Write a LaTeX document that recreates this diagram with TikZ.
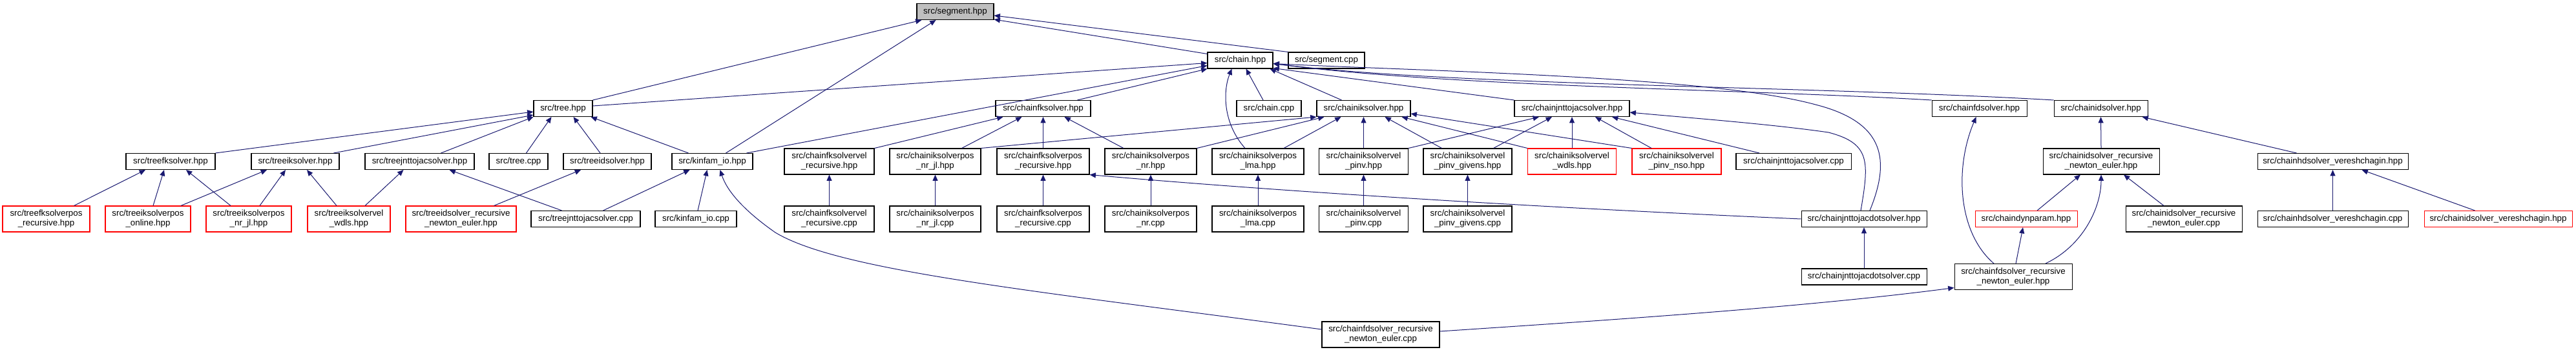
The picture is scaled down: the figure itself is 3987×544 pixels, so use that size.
\documentclass[tikz,border=0pt]{standalone}
\usepackage{fontspec}
\setmainfont{Liberation Sans}
\usetikzlibrary{arrows.meta,calc}
\definecolor{edgeblue}{HTML}{191970}
\definecolor{rootgray}{HTML}{BFBFBF}
\begin{document}
\begin{tikzpicture}[x=0.75pt,y=-0.75pt,
  bx/.style={draw=black, line width=0.8pt, fill=white, inner sep=0pt, minimum height=18.75pt, align=center, font=\fontsize{10}{11.25}\selectfont},
  two/.style={minimum height=30pt},
  redb/.style={draw=red},
  rootbox/.style={fill=rootgray},
  edge/.style={draw=edgeblue, line width=0.75pt, -{Triangle[length=7pt,width=6pt]}}]
\useasboundingbox (0,0) rectangle (3987,544);
% row 0
\node[bx,rootbox,minimum width=89.25pt] (seghpp) at (1478.5,18) {src/segment.hpp};
% row 1
\node[bx,minimum width=75.75pt] (chainhpp) at (1919.5,93.5) {src/chain.hpp};
\node[bx,minimum width=88.5pt] (segcpp) at (2053,93.5) {src/segment.cpp};
% row 2
\node[bx,minimum width=68.25pt] (treehpp) at (871.5,168) {src/tree.hpp};
\node[bx,minimum width=110.25pt] (chainfk) at (1614.5,168) {src/chainfksolver.hpp};
\node[bx,minimum width=75pt] (chaincpp) at (1964,168) {src/chain.cpp};
\node[bx,minimum width=108.75pt] (chainik) at (2110.5,168) {src/chainiksolver.hpp};
\node[bx,minimum width=133.5pt] (chainjac) at (2433,168) {src/chainjnttojacsolver.hpp};
\node[bx,minimum width=110.25pt] (chainfd) at (3063.5,168) {src/chainfdsolver.hpp};
\node[bx,minimum width=108.75pt] (chainid) at (3251.5,168) {src/chainidsolver.hpp};
% row 3
\node[bx,minimum width=103.5pt] (treefk) at (264,250) {src/treefksolver.hpp};
\node[bx,minimum width=102pt] (treeik) at (457,250) {src/treeiksolver.hpp};
\node[bx,minimum width=126.75pt] (treejac) at (649.5,250) {src/treejnttojacsolver.hpp};
\node[bx,minimum width=68.25pt] (treecpp) at (802.5,250) {src/tree.cpp};
\node[bx,minimum width=102pt] (treeid) at (940,250) {src/treeidsolver.hpp};
\node[bx,minimum width=93.75pt] (kinfamhpp) at (1102.5,250) {src/kinfam\_io.hpp};
\node[bx,two,minimum width=104.25pt] (fkvelrec) at (1283.5,250) {src/chainfksolvervel\\\_recursive.hpp};
\node[bx,two,minimum width=105.75pt] (iknrjl) at (1447.5,250) {src/chainiksolverpos\\\_nr\_jl.hpp};
\node[bx,two,minimum width=107.25pt] (fkposrec) at (1614.5,250) {src/chainfksolverpos\\\_recursive.hpp};
\node[bx,two,minimum width=106.5pt] (iknr) at (1781,250) {src/chainiksolverpos\\\_nr.hpp};
\node[bx,two,minimum width=106.5pt] (iklma) at (1947,250) {src/chainiksolverpos\\\_lma.hpp};
\node[bx,two,minimum width=103.5pt] (pinv) at (2110.5,250) {src/chainiksolvervel\\\_pinv.hpp};
\node[bx,two,minimum width=102.75pt] (pinvgiv) at (2271.5,250) {src/chainiksolvervel\\\_pinv\_givens.hpp};
\node[bx,two,redb,minimum width=102.75pt] (velwdls) at (2433,250) {src/chainiksolvervel\\\_wdls.hpp};
\node[bx,two,redb,minimum width=103.5pt] (pinvnso) at (2595,250) {src/chainiksolvervel\\\_pinv\_nso.hpp};
\node[bx,minimum width=133.5pt] (jaccpp) at (2776,250) {src/chainjnttojacsolver.cpp};
\node[bx,two,minimum width=135pt] (idrne) at (3252,250) {src/chainidsolver\_recursive\\\_newton\_euler.hpp};
\node[bx,minimum width=174.75pt] (hdver) at (3610.5,250) {src/chainhdsolver\_vereshchagin.hpp};
% row 4
\node[bx,two,redb,minimum width=101.25pt] (treefkposrec) at (71.5,339) {src/treefksolverpos\\\_recursive.hpp};
\node[bx,two,redb,minimum width=99pt] (treeikonline) at (229,339) {src/treeiksolverpos\\\_online.hpp};
\node[bx,two,redb,minimum width=99pt] (treeiknrjl) at (385,339) {src/treeiksolverpos\\\_nr\_jl.hpp};
\node[bx,two,redb,minimum width=96pt] (treeikvelwdls) at (540,339) {src/treeiksolvervel\\\_wdls.hpp};
\node[bx,two,redb,minimum width=128.25pt] (treeidrne) at (713.5,339) {src/treeidsolver\_recursive\\\_newton\_euler.hpp};
\node[bx,minimum width=126.75pt] (treejaccpp) at (906.5,339) {src/treejnttojacsolver.cpp};
\node[bx,minimum width=94.5pt] (kinfamcpp) at (1077,339) {src/kinfam\_io.cpp};
\node[bx,two,minimum width=104.25pt] (fkvelreccpp) at (1283.5,339) {src/chainfksolvervel\\\_recursive.cpp};
\node[bx,two,minimum width=105.75pt] (iknrjlcpp) at (1447.5,339) {src/chainiksolverpos\\\_nr\_jl.cpp};
\node[bx,two,minimum width=107.25pt] (fkposreccpp) at (1614.5,339) {src/chainfksolverpos\\\_recursive.cpp};
\node[bx,two,minimum width=106.5pt] (iknrcpp) at (1781,339) {src/chainiksolverpos\\\_nr.cpp};
\node[bx,two,minimum width=106.5pt] (iklmacpp) at (1947,339) {src/chainiksolverpos\\\_lma.cpp};
\node[bx,two,minimum width=103.5pt] (pinvcpp) at (2110.5,339) {src/chainiksolvervel\\\_pinv.cpp};
\node[bx,two,minimum width=102.75pt] (pinvgivcpp) at (2271.5,339) {src/chainiksolvervel\\\_pinv\_givens.cpp};
\node[bx,minimum width=145.5pt] (jacdot) at (2885,339) {src/chainjnttojacdotsolver.hpp};
\node[bx,redb,minimum width=118.5pt] (dynparam) at (3136,339) {src/chaindynparam.hpp};
\node[bx,two,minimum width=135pt] (idrnecpp) at (3380,339) {src/chainidsolver\_recursive\\\_newton\_euler.cpp};
\node[bx,minimum width=174.75pt] (hdvercpp) at (3610.5,339) {src/chainhdsolver\_vereshchagin.cpp};
\node[bx,redb,minimum width=171.75pt] (idver) at (3866.5,339) {src/chainidsolver\_vereshchagin.hpp};
% row 5
\node[bx,minimum width=145.5pt] (jacdotcpp) at (2885,428.5) {src/chainjnttojacdotsolver.cpp};
\node[bx,two,minimum width=136.5pt] (fdrne) at (3116,428.5) {src/chainfdsolver\_recursive\\\_newton\_euler.hpp};
% row 6
\node[bx,two,minimum width=136.5pt] (fdrnecpp) at (2137,518) {src/chainfdsolver\_recursive\\\_newton\_euler.cpp};

% ---- edges (includer -> included) ----
% segment.hpp
\draw[edge] (treehpp.north east) -- ($(seghpp.south west)+(8,0)$);
\draw[edge] ($(kinfamhpp.north)+(21,0)$) -- ($(seghpp.south)+(-30,0)$);
\draw[edge] ($(chainhpp.north west)+(0,3)$) -- ($(seghpp.south east)+(0,-1)$);
\draw[edge] (segcpp.north west) -- ($(seghpp.east)+(0,6)$);
% chain.hpp
\draw[edge] ($(treehpp.east)+(0,-4)$) -- ($(chainhpp.west)+(0,4)$);
\draw[edge] ($(kinfamhpp.north east)+(-10,0)$) -- ($(chainhpp.west)+(0,8)$);
\draw[edge] ($(chainfk.north)+(53,0)$) -- (chainhpp.south west);
\draw[edge] ($(chaincpp.north)+(-9,0)$) -- ($(chainhpp.south)+(9,0)$);
\draw[edge] ($(chainik.north)+(-34,0)$) -- ($(chainhpp.south east)+(-5,0)$);
\draw[edge] ($(iklma.north)+(-20,0)$) .. controls (1892,190) and (1893,140) .. ($(chainhpp.south)+(-13,0)$);
\draw[edge] (chainjac.north west) -- ($(chainhpp.south east)+(0,-1)$);
\draw[edge] (chainfd.north west) .. controls (2700,138) and (2250,135) .. ($(chainhpp.east)+(0,5)$);
\draw[edge] (chainid.north west) .. controls (2800,133) and (2250,133) .. ($(chainhpp.east)+(0,5)$);
\draw[edge] ($(jacdot.north)+(9,0)$) .. controls (2925,250) and (2920,190) .. (2810,162) .. controls (2650,118) and (2200,110) .. ($(chainhpp.east)+(0,5)$);
% tree.hpp
\draw[edge] (treefk.north east) -- ($(treehpp.west)+(0,5)$);
\draw[edge] ($(treeik.north east)+(-9,0)$) -- ($(treehpp.west)+(0,10)$);
\draw[edge] ($(treejac.north)+(33,0)$) -- (treehpp.south west);
\draw[edge] ($(treecpp.north)+(12,0)$) -- ($(treehpp.south)+(-18,0)$);
\draw[edge] ($(treeid.north)+(-11,0)$) -- ($(treehpp.south)+(16,0)$);
\draw[edge] ($(kinfamhpp.north)+(-37,0)$) -- ($(treehpp.south east)+(-3,0)$);
% chainfksolver.hpp
\draw[edge] (fkvelrec.north east) -- ($(chainfk.south)+(-62,0)$);
\draw[edge] ($(iknrjl.north)+(41,0)$) -- ($(chainfk.south)+(-33,0)$);
\draw[edge] (fkposrec.north) -- (chainfk.south);
\draw[edge] ($(iknr.north)+(-42,0)$) -- ($(chainfk.south)+(33,0)$);
% chainiksolver.hpp
\draw[edge] (iknrjl.north east) -- (chainik.south west);
\draw[edge] (iknr.north east) -- ($(chainik.south)+(-61,0)$);
\draw[edge] ($(iklma.north)+(40,0)$) -- ($(chainik.south)+(-35,0)$);
\draw[edge] (pinv.north) -- (chainik.south);
\draw[edge] ($(pinvgiv.north)+(-40,0)$) -- ($(chainik.south)+(33,0)$);
\draw[edge] (velwdls.north west) -- ($(chainik.south)+(59,0)$);
\draw[edge] (pinvnso.north west) -- ($(chainik.east)+(0,8)$);
% chainjnttojacsolver.hpp
\draw[edge] (pinv.north east) -- ($(chainjac.south)+(-51,0)$);
\draw[edge] ($(pinvgiv.north)+(40,0)$) -- ($(chainjac.south)+(-31,0)$);
\draw[edge] (velwdls.north) -- (chainjac.south);
\draw[edge] ($(pinvnso.north)+(-39,0)$) -- ($(chainjac.south)+(36,0)$);
\draw[edge] ($(jaccpp.north)+(-53,0)$) -- ($(chainjac.south)+(62,0)$);
\draw[edge] ($(jacdot.north)+(-5,0)$) .. controls (2893,250) and (2895,222) .. (2830,205) .. controls (2740,192) and (2620,183) .. ($(chainjac.east)+(0,6)$);
% tree level
\draw[edge] ($(treefkposrec.north)+(43,0)$) -- ($(treefk.south)+(-39,0)$);
\draw[edge] ($(treeikonline.north)+(8,0)$) -- ($(treefk.south)+(-10,0)$);
\draw[edge] ($(treeiknrjl.north)+(-28,0)$) -- ($(treefk.south)+(24,0)$);
\draw[edge] ($(treeikonline.north)+(51,0)$) -- ($(treeik.south)+(-44,0)$);
\draw[edge] ($(treeiknrjl.north)+(17,0)$) -- ($(treeik.south)+(-15,0)$);
\draw[edge] ($(treeikvelwdls.north)+(-19,0)$) -- ($(treeik.south)+(18,0)$);
\draw[edge] ($(treeikvelwdls.north)+(25,0)$) -- ($(treejac.south)+(-25,0)$);
\draw[edge] ($(treejaccpp.north)+(-37,0)$) -- ($(treejac.south)+(46,0)$);
\draw[edge] ($(treeidrne.north)+(51,0)$) -- ($(treeid.south)+(-41,0)$);
\draw[edge] ($(treejaccpp.north)+(27,0)$) -- ($(kinfamhpp.south)+(-35,0)$);
\draw[edge] ($(kinfamcpp.north)+(3,0)$) -- ($(kinfamhpp.south)+(-8,0)$);
\draw[edge] ($(fdrnecpp.west)+(0,-8)$) .. controls (1600,450) and (1300,420) .. (1200,360) .. controls (1150,325) and (1125,295) .. ($(kinfamhpp.south)+(12,0)$);
% cpp to hpp verticals
\draw[edge] (fkvelreccpp.north) -- (fkvelrec.south);
\draw[edge] (iknrjlcpp.north) -- (iknrjl.south);
\draw[edge] (fkposreccpp.north) -- (fkposrec.south);
\draw[edge] (iknrcpp.north) -- (iknr.south);
\draw[edge] (iklmacpp.north) -- (iklma.south);
\draw[edge] (pinvcpp.north) -- (pinv.south);
\draw[edge] (pinvgivcpp.north) -- (pinvgiv.south);
\draw[edge] (jacdot.west) .. controls (2400,322) and (2000,298) .. (fkposrec.south east);
\draw[edge] (jacdotcpp.north) -- (jacdot.south);
% dynamics
\draw[edge] ($(fdrne.north)+(-30,0)$) .. controls (3030,360) and (3025,260) .. ($(chainfd.south)+(-5,0)$);
\draw[edge] ($(dynparam.north)+(17,0)$) -- ($(idrne.south)+(-32,0)$);
\draw[edge] ($(fdrne.north)+(50,0)$) .. controls (3225,380) and (3252,320) .. (idrne.south);
\draw[edge] ($(idrnecpp.north)+(-31,0)$) -- ($(idrne.south)+(35,0)$);
\draw[edge] ($(fdrne.north)+(4,0)$) -- ($(dynparam.south)+(-5,0)$);
\draw[edge] ($(fdrnecpp.east)+(0,-5)$) .. controls (2500,495) and (2800,475) .. ($(fdrne.west)+(0,17)$);
\draw[edge] (idrne.north) -- (chainid.south);
\draw[edge] ($(hdver.north)+(-56,0)$) -- ($(chainid.south east)+(-9,0)$);
\draw[edge] (hdvercpp.north) -- (hdver.south);
\draw[edge] ($(idver.north)+(-36,0)$) -- ($(hdver.south)+(45,0)$);
\end{tikzpicture}
\end{document}
